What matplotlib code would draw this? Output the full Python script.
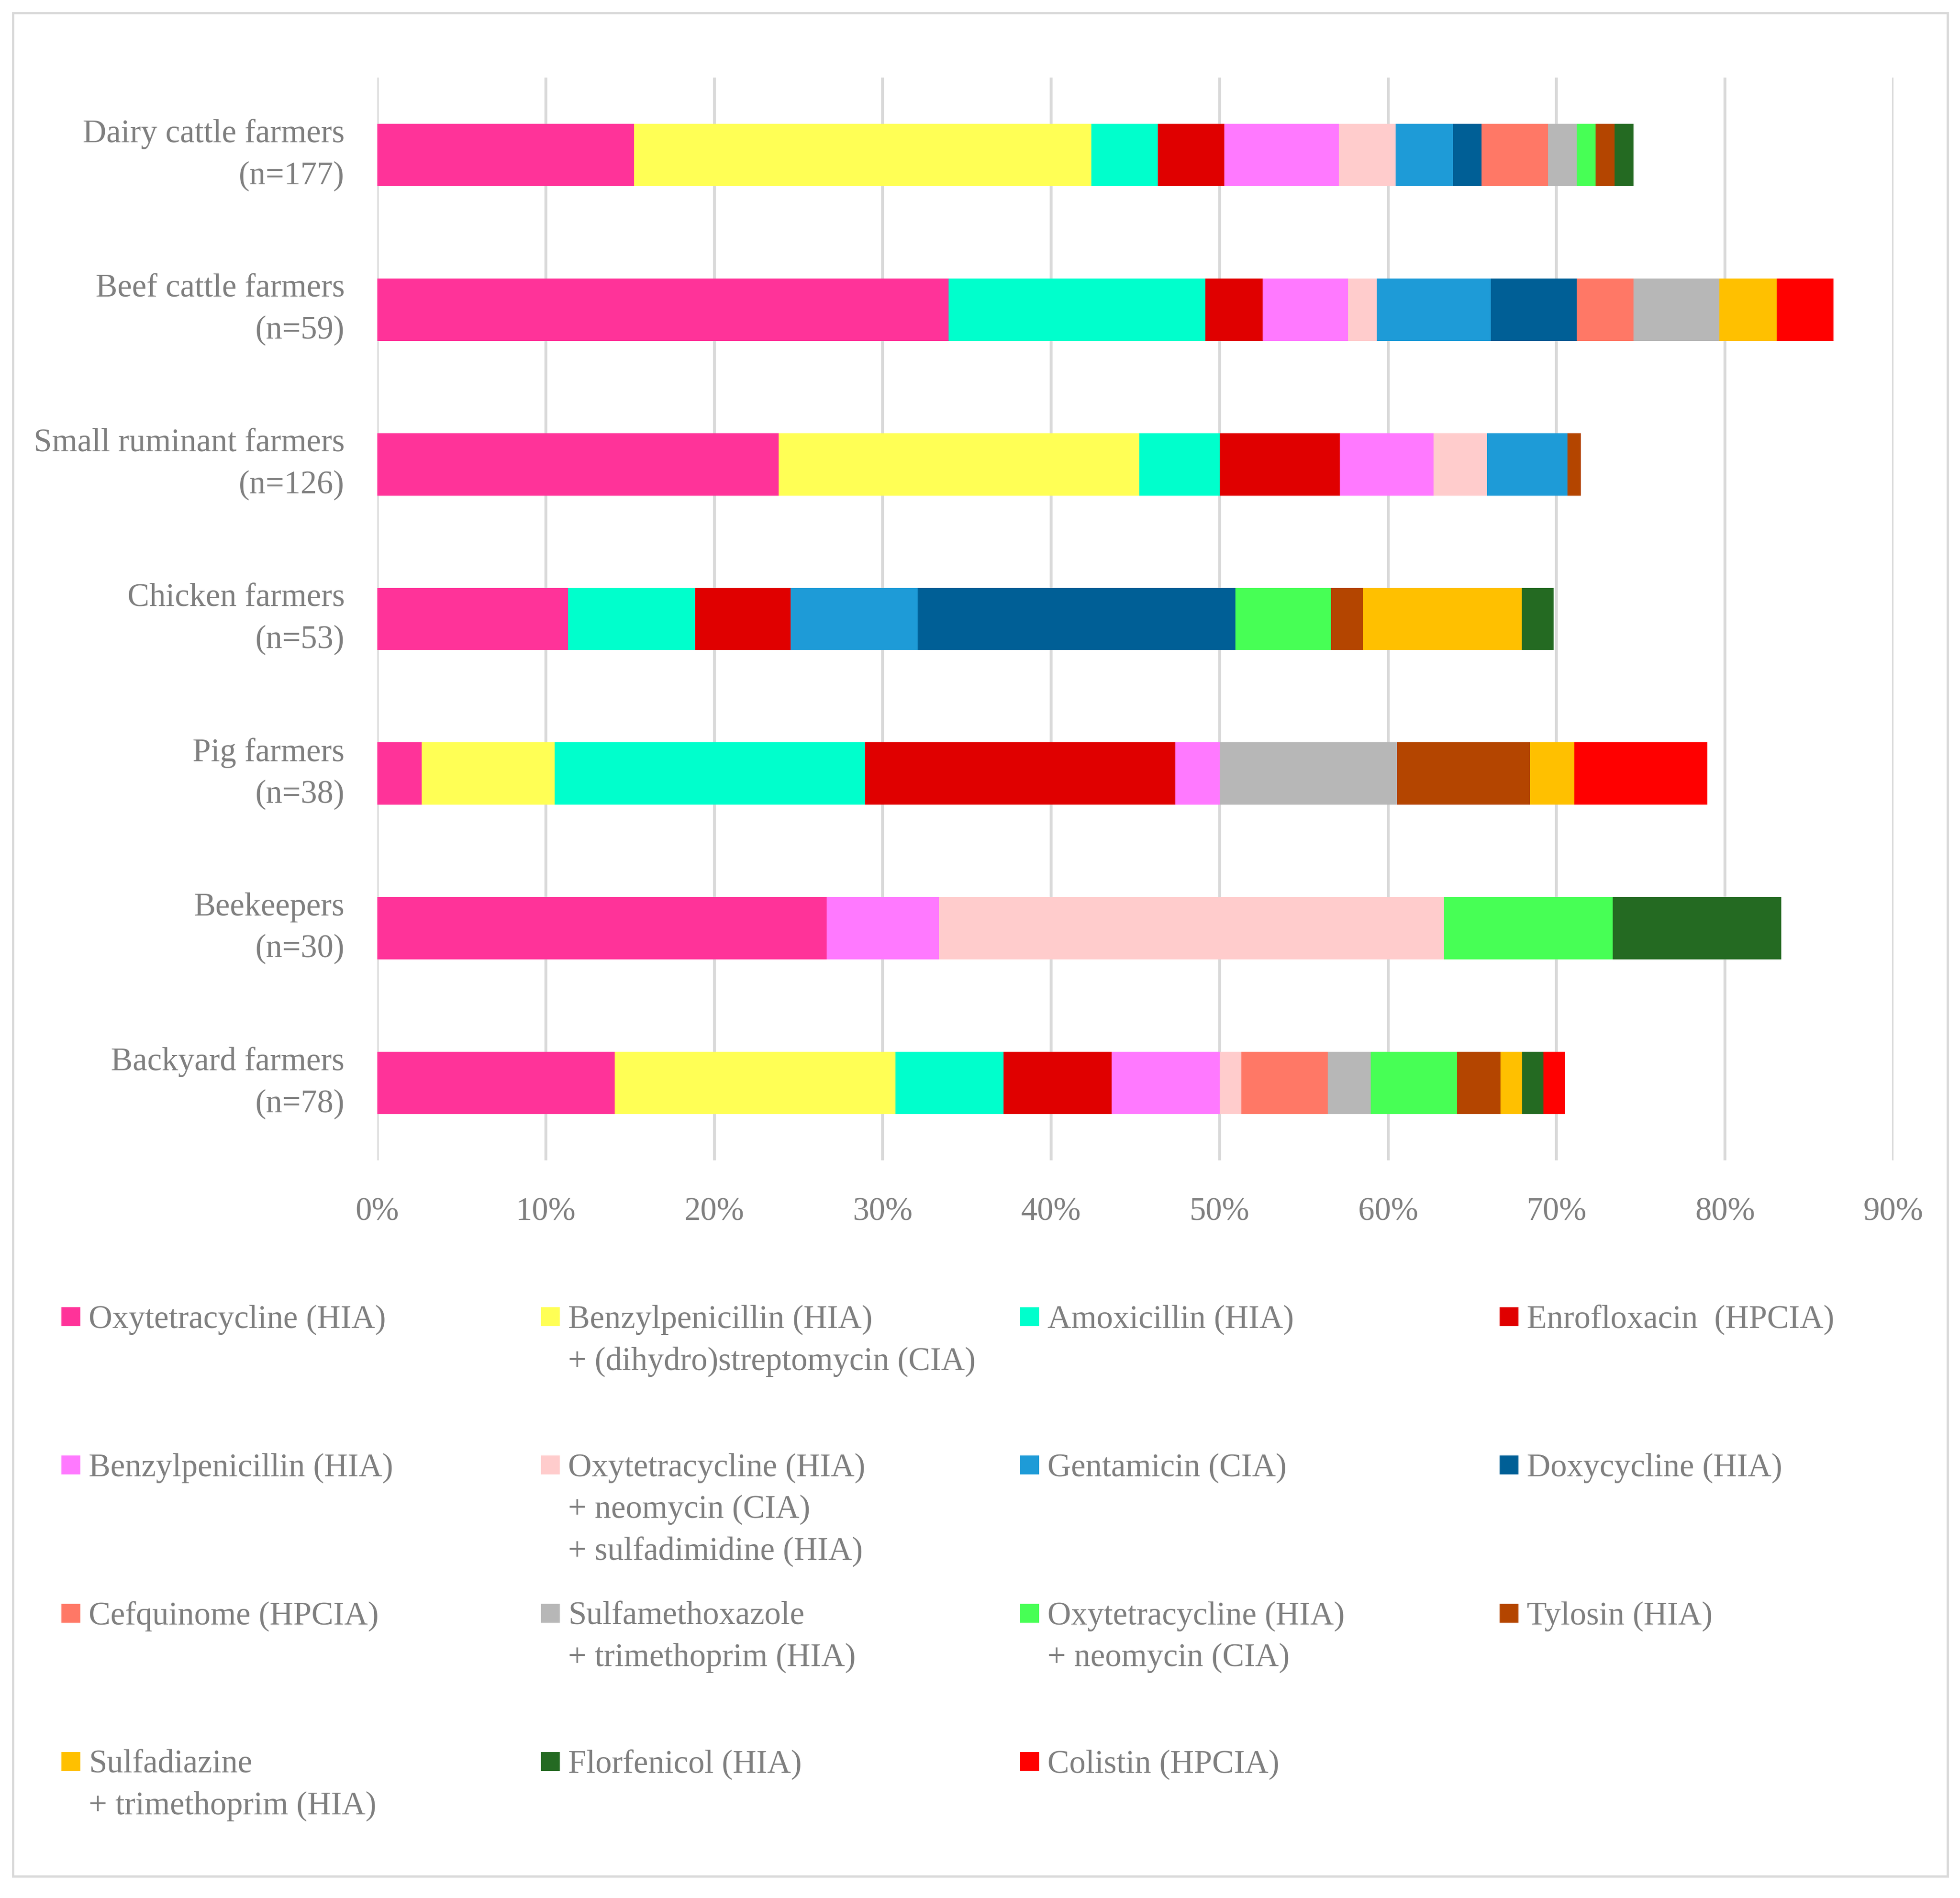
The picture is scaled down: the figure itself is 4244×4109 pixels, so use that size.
import numpy as np
import matplotlib
matplotlib.use("Agg")
import matplotlib.pyplot as plt
from matplotlib.patches import Rectangle
from matplotlib.ticker import PercentFormatter

# farmer groups and number of respondents
groups = ["Dairy cattle farmers", "Beef cattle farmers", "Small ruminant farmers",
          "Chicken farmers", "Pig farmers", "Beekeepers", "Backyard farmers"]
n_resp = [177, 59, 126, 53, 38, 30, 78]

antibiotics = ["Oxytetracycline (HIA)",
               "Benzylpenicillin (HIA)\n+ (dihydro)streptomycin (CIA)",
               "Amoxicillin (HIA)",
               "Enrofloxacin  (HPCIA)",
               "Benzylpenicillin (HIA)",
               "Oxytetracycline (HIA)\n+ neomycin (CIA)\n+ sulfadimidine (HIA)",
               "Gentamicin (CIA)",
               "Doxycycline (HIA)",
               "Cefquinome (HPCIA)",
               "Sulfamethoxazole\n+ trimethoprim (HIA)",
               "Oxytetracycline (HIA)\n+ neomycin (CIA)",
               "Tylosin (HIA)",
               "Sulfadiazine\n+ trimethoprim (HIA)",
               "Florfenicol (HIA)",
               "Colistin (HPCIA)"]
colours = ["#FF3399", "#FFFF55", "#00FFCC", "#E00000", "#FF79FF", "#FFCCCC",
           "#1E9BD7", "#005F96", "#FF7866", "#B7B7B7", "#47FF55", "#B44500",
           "#FFC000", "#246A22", "#FF0000"]

# farmers using each product, per group (same order as groups)
oxytetracycline = [27, 20, 30, 6, 1, 8, 11]
benzyl_strepto = [48, 0, 27, 0, 3, 0, 13]
amoxicillin = [7, 9, 6, 4, 7, 0, 5]
enrofloxacin = [7, 2, 9, 3, 7, 0, 5]
benzylpenicillin = [12, 3, 7, 0, 1, 2, 5]
oxy_neo_sulfa = [6, 1, 4, 0, 0, 9, 1]
gentamicin = [6, 4, 6, 4, 0, 0, 0]
doxycycline = [3, 3, 0, 10, 0, 0, 0]
cefquinome = [7, 2, 0, 0, 0, 0, 4]
sulfameth_trim = [3, 3, 0, 0, 4, 0, 2]
oxy_neo = [2, 0, 0, 3, 0, 3, 4]
tylosin = [2, 0, 1, 1, 3, 0, 2]
sulfadiazine_trim = [0, 2, 0, 5, 1, 0, 1]
florfenicol = [2, 0, 0, 1, 0, 3, 1]
colistin = [0, 2, 0, 0, 3, 0, 1]

counts = [oxytetracycline, benzyl_strepto, amoxicillin, enrofloxacin,
          benzylpenicillin, oxy_neo_sulfa, gentamicin, doxycycline, cefquinome,
          sulfameth_trim, oxy_neo, tylosin, sulfadiazine_trim, florfenicol, colistin]

pct = np.array(counts, dtype=float) / np.array(n_resp) * 100

W, H = 4244, 4109
grey = "#7F7F7F"
plt.rcParams["font.family"] = ["Liberation Serif", "DejaVu Serif"]
fs = 17
lsp = 1.5

fig = plt.figure(figsize=(W / 300, H / 300), dpi=300)
ax = fig.add_axes([817 / W, 1 - 2512 / H, (4100 - 817) / W, (2512 - 168) / H])

y = np.arange(len(groups))
left = np.zeros(len(groups))
for vals, col in zip(pct, colours):
    ax.barh(y, vals, left=left, height=0.403, color=col, linewidth=0, zorder=2)
    left += vals

ax.set_xlim(0, 90)
ax.set_ylim(len(groups) - 0.5, -0.5)
ax.set_xticks(np.arange(0, 91, 10))
ax.xaxis.set_major_formatter(PercentFormatter(decimals=0))
ax.set_yticks(y)
ax.set_yticklabels([f"{g}\n(n={n})" for g, n in zip(groups, n_resp)])
ax.xaxis.grid(True, color="#D9D9D9", linewidth=1.5, zorder=0)
ax.set_axisbelow(True)
for s in ax.spines.values():
    s.set_visible(False)
ax.tick_params(axis="both", length=0, labelsize=fs, labelcolor=grey)
ax.tick_params(axis="x", pad=19)
ax.tick_params(axis="y", pad=17)
for lbl in ax.get_yticklabels():
    lbl.set_linespacing(lsp)
    lbl.set_verticalalignment("center")

# legend laid out row by row, like the original
for i, (name, col) in enumerate(zip(antibiotics, colours)):
    r, c = divmod(i, 4)
    x0 = 133 + 1038 * c
    yc = 2850 + 321 * r
    fig.patches.append(Rectangle((x0 / W, 1 - (yc + 20.5) / H), 41 / W, 41 / H,
                                 transform=fig.transFigure, color=col, linewidth=0))
    fig.text((x0 + 59) / W, 1 - (yc - 25.6) / H, name, va="top", ha="left",
             fontsize=fs, color=grey, linespacing=lsp)

# chart border
fig.patches.append(Rectangle((28 / W, 1 - 4062 / H), (4217 - 28) / W, (4062 - 28) / H,
                             transform=fig.transFigure, fill=False,
                             edgecolor="#D9D9D9", linewidth=1.2))

fig.savefig("out.png", dpi=300)
